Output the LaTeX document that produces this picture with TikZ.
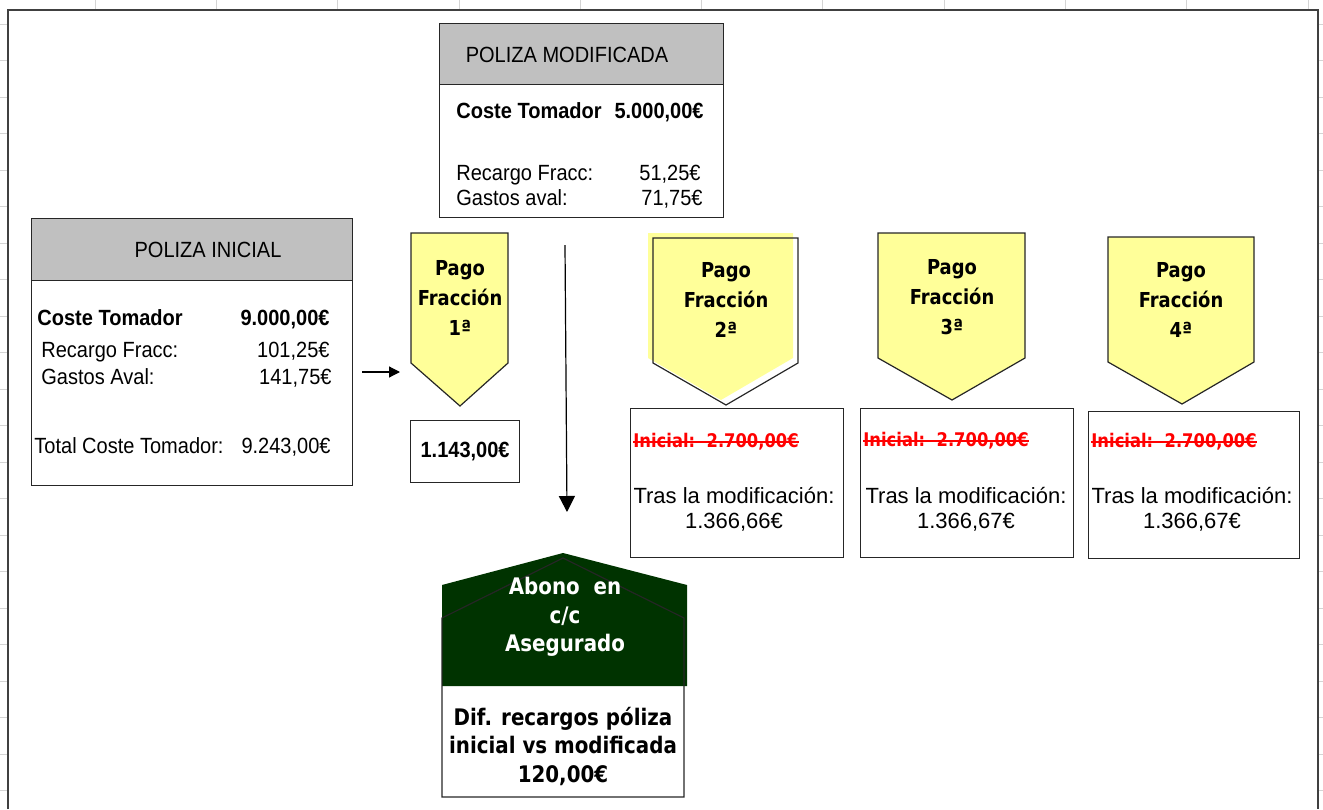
\documentclass[tikz,border=0pt]{standalone}
\usepackage{fontspec}
\setmainfont{Liberation Sans}
\newfontfamily\arialn{Liberation Sans}[FakeStretch=0.91]
\newfontfamily\tahoma{DejaVu Sans}[FakeStretch=0.87]
\usetikzlibrary{arrows.meta}

\definecolor{gris}{HTML}{C0C0C0}
\definecolor{amarillo}{HTML}{FFFF99}
\definecolor{verde}{HTML}{003300}
\definecolor{rejilla}{HTML}{D4D4D4}

\tikzset{
	linea/.style={draw=black!85, line width=0.6pt},
	caja/.style={linea, anchor=north west, inner sep=0pt},
	cabecera/.style={caja, fill=gris},
	txt/.style={font=\arialn\fontsize{11}{13}\selectfont, inner sep=0pt},
	txtb/.style={font=\arialn\bfseries\fontsize{11}{13}\selectfont, inner sep=0pt},
	importe/.style={font=\fontsize{11}{12.5}\selectfont, align=center, inner sep=0pt},
	pago/.style={font=\tahoma\bfseries\fontsize{10.3}{15}\selectfont, align=center, inner sep=0pt},
	tachado/.style={font=\tahoma\bfseries\fontsize{9.4}{11}\selectfont, text=red, anchor=base west, inner sep=0pt},
	abono/.style={font=\tahoma\bfseries\fontsize{11.4}{14.25}\selectfont, align=center, inner sep=0pt},
	flecha/.style={black, line width=0.6pt, -{Triangle[length=#1, width=#1]}},
}

\begin{document}
\begin{tikzpicture}[x=0.5pt, y=-0.5pt]
	\useasboundingbox (0,0) rectangle (1323,809);

	\foreach \x in {95,216.3,...,1310} \draw[rejilla] (\x,0) -- (\x,10);
	\foreach \y in {24,60.5,...,809} {
		\draw[rejilla] (0,\y) -- (8,\y);
		\draw[rejilla] (1318,\y) -- (1323,\y);
	}
	\draw[black!75, line width=1pt] (8,809) -- (8,10) -- (1318,10) -- (1318,809);

	\node[caja, minimum width=142pt, minimum height=97pt] (pmod) at (439,23) {};
	\node[cabecera, minimum width=142pt, minimum height=30.5pt] (pmodh) at (439,23) {};
	\node[txt, anchor=base] (pmodt) at (567,62) {POLIZA MODIFICADA};
	\node[txtb, anchor=base west] (pmodc) at (456,118) {Coste Tomador};
	\node[txtb, anchor=base east] (pmodcv) at (704,118) {5.000,00€};
	\node[txt, anchor=base west] (pmodr) at (456,180) {Recargo Fracc:};
	\node[txt, anchor=base east] (pmodrv) at (701,180) {51,25€};
	\node[txt, anchor=base west] (pmodg) at (456,205) {Gastos aval:};
	\node[txt, anchor=base east] (pmodgv) at (703,205) {71,75€};

	\node[caja, minimum width=160.5pt, minimum height=133.5pt] (pini) at (31,218) {};
	\node[cabecera, minimum width=160.5pt, minimum height=31pt] (pinih) at (31,218) {};
	\node[txt, anchor=base] (pinit) at (208,257) {POLIZA INICIAL};
	\node[txtb, anchor=base west] (pinic) at (37,325) {Coste Tomador};
	\node[txtb, anchor=base east] (pinicv) at (330,325) {9.000,00€};
	\node[txt, anchor=base west] (pinir) at (41,357) {Recargo Fracc:};
	\node[txt, anchor=base east] (pinirv) at (330,357) {101,25€};
	\node[txt, anchor=base west] (pinig) at (41,384) {Gastos Aval:};
	\node[txt, anchor=base east] (pinigv) at (332,384) {141,75€};
	\node[txt, anchor=base west] (pinito) at (34,453) {Total Coste Tomador:};
	\node[txt, anchor=base east] (pinitov) at (331,453) {9.243,00€};

	\foreach \l/\r/\m/\t/\s/\p/\d in {411/508/460/233/363/406/0, 653/798/726/238/363/405/-5,
			878/1025/952/233/358/400/0, 1108/1254/1182/237/362/404/0} {
		\fill[amarillo, shift={(\d,\d)}] (\l,\t) -- (\r,\t) -- (\r,\s) -- (\m,\p) -- (\l,\s) -- cycle;
		\draw[linea] (\l,\t) -- (\r,\t) -- (\r,\s) -- (\m,\p) -- (\l,\s) -- cycle;
	}
	\node[pago] (pag1) at (460,298) {Pago\\Fracción\\1ª};
	\node[pago] (pag2) at (726,300) {Pago\\Fracción\\2ª};
	\node[pago] (pag3) at (952,297) {Pago\\Fracción\\3ª};
	\node[pago] (pag4) at (1181,300) {Pago\\Fracción\\4ª};

	\node[caja, txtb, minimum width=54.5pt, minimum height=31pt] (imp1) at (410,420) {1.143,00€};
	\node[caja, minimum width=106.5pt, minimum height=74.5pt] (imp2) at (630,408) {};
	\node[caja, minimum width=106.5pt, minimum height=74.5pt] (imp3) at (860,408) {};
	\node[caja, minimum width=105.5pt, minimum height=73.5pt] (imp4) at (1088,411) {};
	\node[tachado] (ini2) at (633,447) {Inicial:\ \ 2.700,00€};
	\node[tachado] (ini3) at (863,446) {Inicial:\ \ 2.700,00€};
	\node[tachado] (ini4) at (1091,447) {Inicial:\ \ 2.700,00€};
	\foreach \n in {ini2,ini3,ini4}
		\draw[red, line width=0.7pt] ([yshift=2.5pt]\n.base west) -- ([yshift=2.5pt]\n.base east);
	\node[importe] (mod2) at (734,509) {Tras la modificación:\\1.366,66€};
	\node[importe] (mod3) at (966,509) {Tras la modificación:\\1.366,67€};
	\node[importe] (mod4) at (1192,509) {Tras la modificación:\\1.366,67€};

	\fill[verde] (442,686) -- (442,585) -- (563,553) -- (687,585) -- (687,686) -- cycle;
	\draw[linea] (442,797) -- (442,618) -- (563,558) -- (684,618) -- (684,797) -- cycle;
	\node[abono, text=white] (abono) at (565,617) {Abono\ \ en\\c/c\\Asegurado};
	\node[abono] (dif) at (563,746) {Dif. recargos póliza\\inicial vs modificada\\120,00€};

	\coordinate (a1) at (362,372);
	\coordinate (a2) at (400,372);
	\coordinate (b1) at (565,245);
	\coordinate (b2) at (567,512);
	\draw[flecha=5.5pt] (a1) -- (a2);
	\draw[flecha=8pt] (b1) -- (b2);
\end{tikzpicture}
\end{document}
